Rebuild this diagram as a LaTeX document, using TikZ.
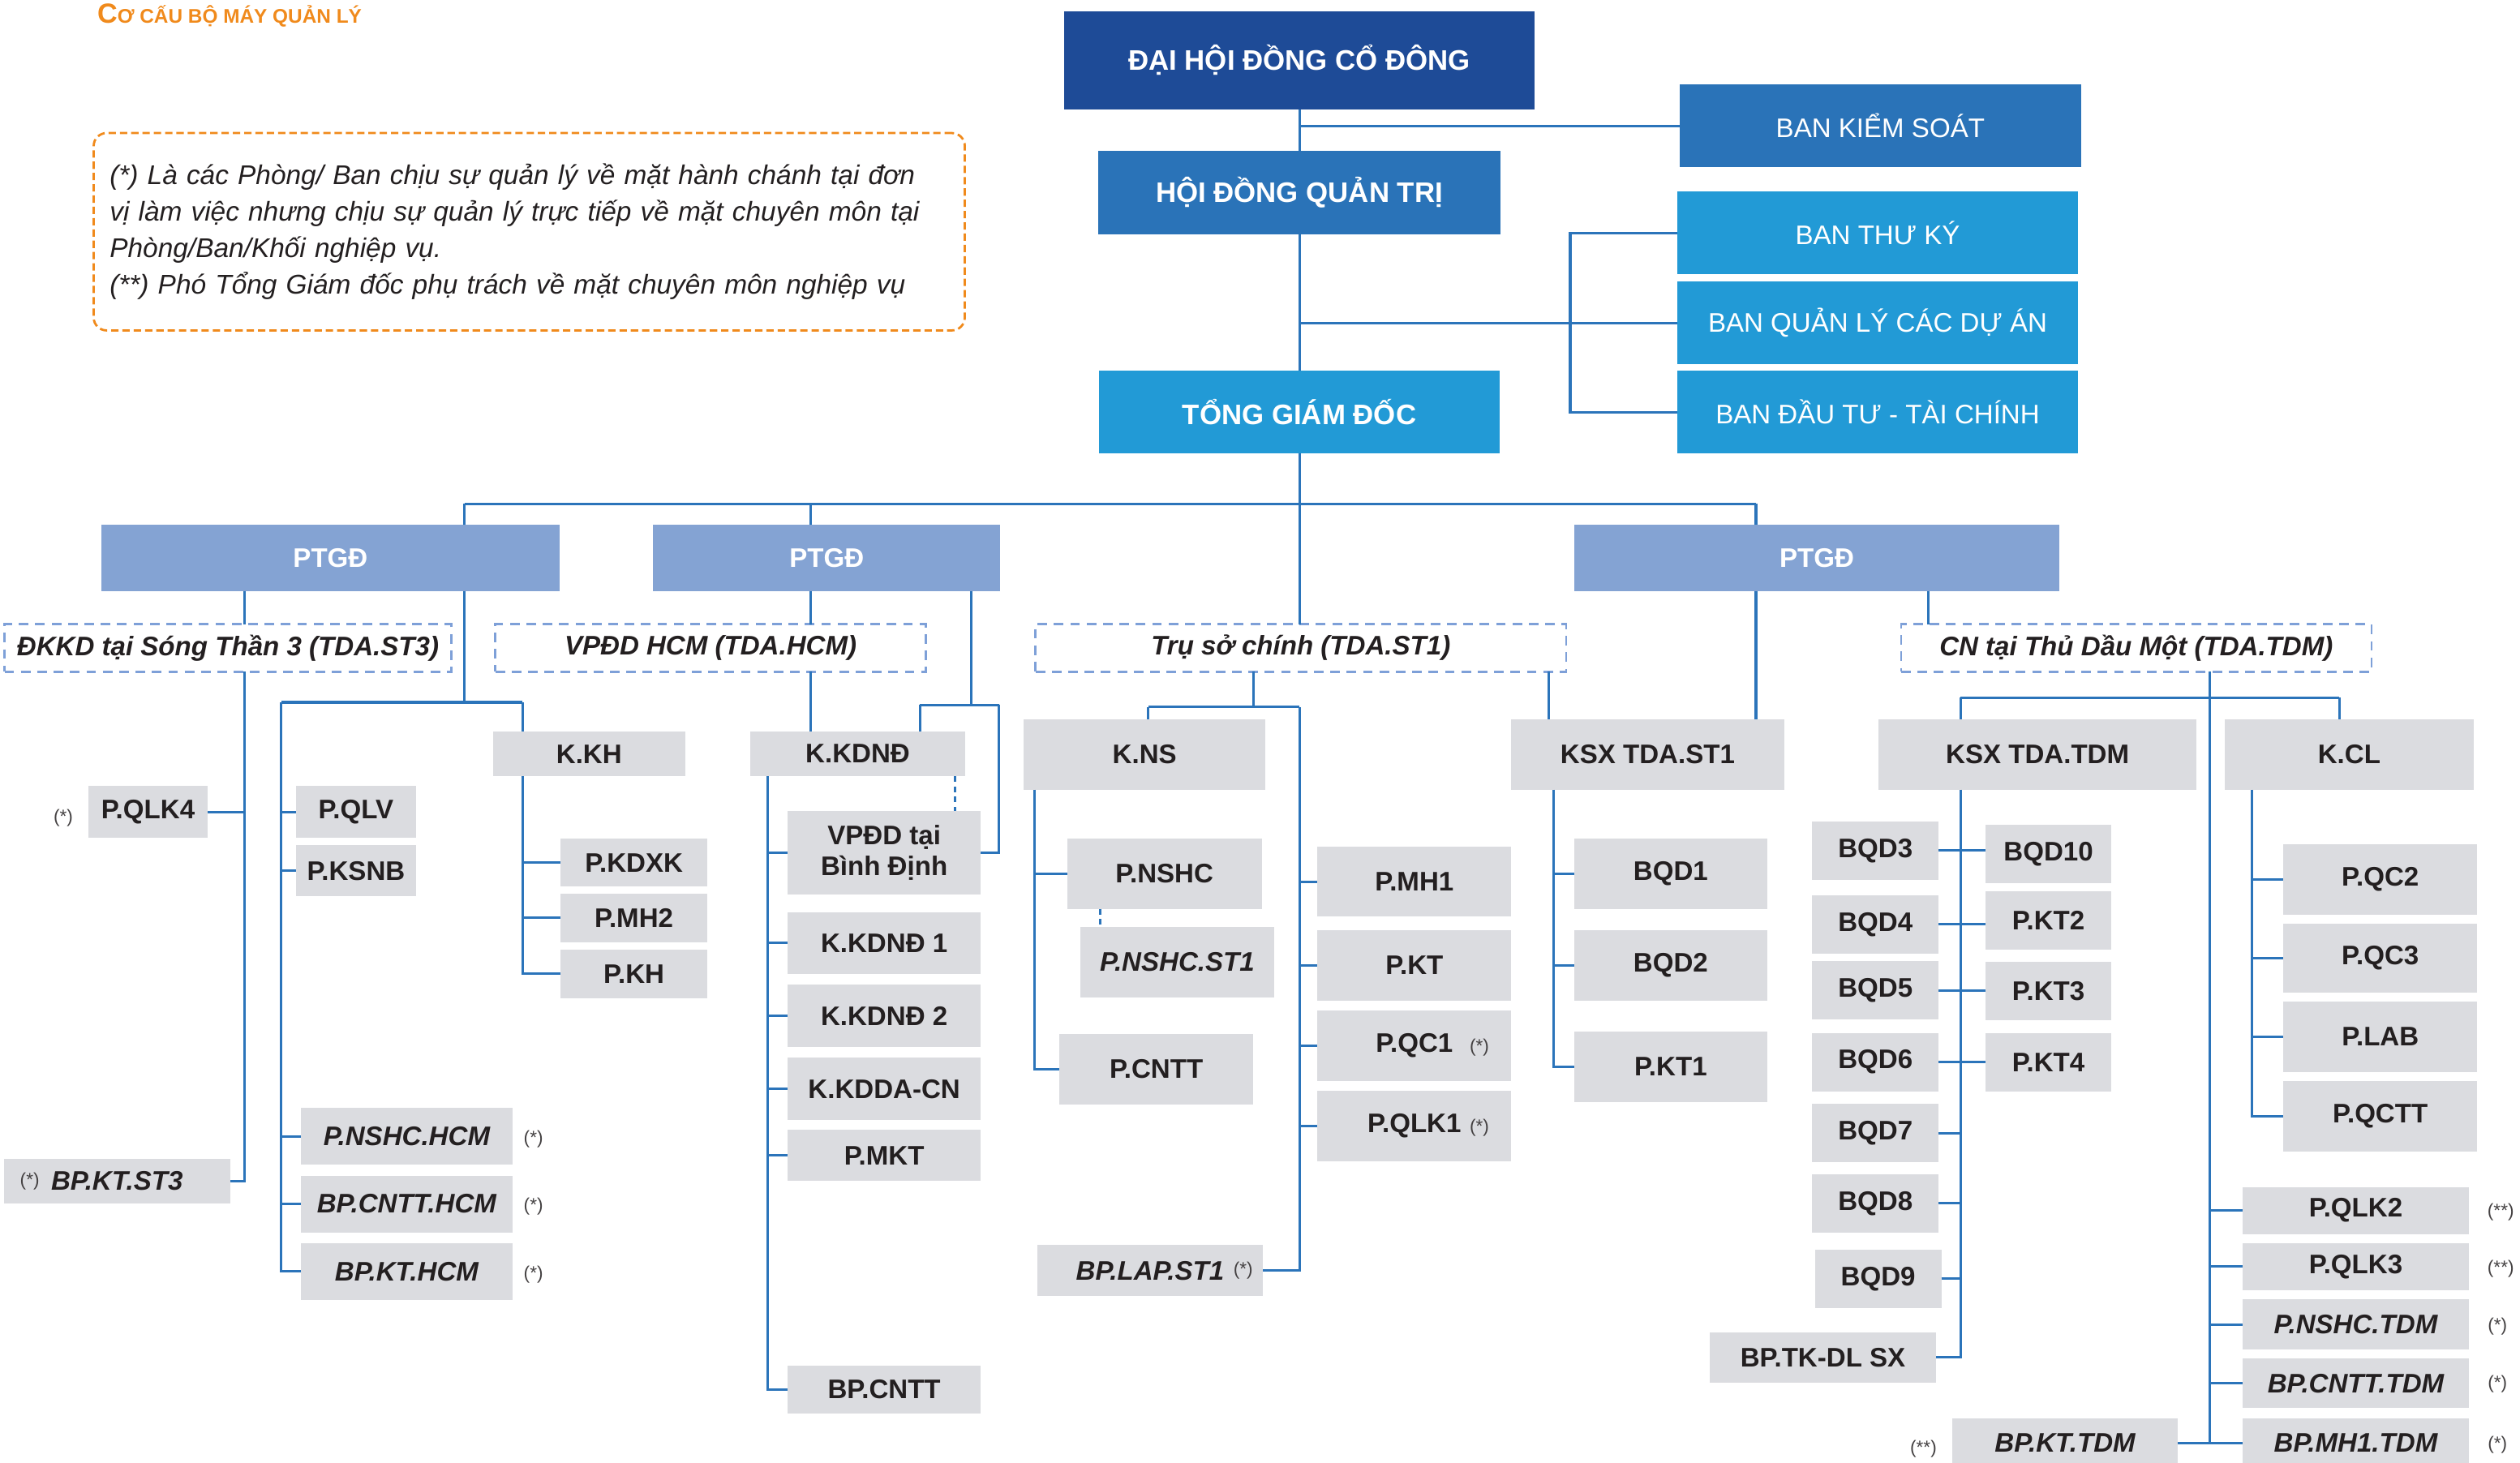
\documentclass[tikz,border=0pt]{standalone}
\usepackage{fontspec}
\setmainfont{Liberation Sans}
\usepackage{xcolor}
\usepackage{tikz}

\definecolor{dhblue}{HTML}{1E4B97}
\definecolor{hdblue}{HTML}{2A73B8}
\definecolor{tgblue}{HTML}{229AD6}
\definecolor{ptblue}{HTML}{84A3D3}
\definecolor{hdrblue}{HTML}{7EA0D8}
\definecolor{linkblue}{HTML}{2B74BA}
\definecolor{boxgray}{HTML}{DBDCE0}
\definecolor{ink}{HTML}{231F20}
\definecolor{orng}{HTML}{F08A1C}

\tikzset{
  sz/.style 2 args={minimum width=#1*0.2mm, minimum height=#2*0.2mm},
  topbox/.style={rectangle, inner sep=0pt, outer sep=0pt, text=white,
                 font=\fontsize{10}{12}\selectfont\bfseries},
  banbox/.style={rectangle, inner sep=0pt, outer sep=0pt, text=white,
                 font=\fontsize{9.5}{11}\selectfont},
  ptgdbox/.style={rectangle, fill=ptblue, inner sep=0pt, outer sep=0pt,
                  text=white, font=\fontsize{9.5}{11}\selectfont\bfseries},
  hdr/.style={rectangle, draw=hdrblue, fill=white, line width=0.7pt,
              dash pattern=on 3.4pt off 2.4pt, inner sep=0pt, outer sep=0pt,
              text=ink, font=\fontsize{9.5}{11}\selectfont\bfseries\itshape},
  gbox/.style={rectangle, fill=boxgray, inner sep=0pt, outer sep=0pt,
               align=center, text=ink, font=\fontsize{9.5}{11}\selectfont\bfseries},
  gboxi/.style={gbox, font=\fontsize{9.5}{11}\selectfont\bfseries\itshape},
  astk/.style={inner sep=0pt, text=ink!85, font=\fontsize{6.5}{7}\selectfont},
  note/.style={rectangle, draw=orng, rounded corners=1.6mm, line width=0.8pt,
               dash pattern=on 2.6pt off 1.4pt, text width=10.44cm,
               inner xsep=0.2cm, inner ysep=0pt, align=left, text=ink,
               font=\fontsize{9.6}{12.9}\selectfont\itshape},
  line/.style={draw=linkblue, line width=0.9pt},
  dline/.style={line, dash pattern=on 2pt off 1.6pt},
}

\begin{document}
\begin{tikzpicture}[x=0.2mm, y=-0.2mm]
  \useasboundingbox (0,0) rectangle (1568,910);

  % title and notes
  \node[anchor=base west, inner sep=0pt, text=orng, font=\bfseries] (title) at (60.3,14.3)
    {{\fontsize{9.8}{11}\selectfont C}{\fontsize{7}{8}\selectfont Ơ CẤU BỘ MÁY QUẢN LÝ}};
  \node[note, sz={542}{122.8}] (notes) at (329.3,144.2)
    {(*) Là các Phòng/ Ban chịu sự quản lý về mặt hành chánh tại đơn\\
     vị làm việc nhưng chịu sự quản lý trực tiếp về mặt chuyên môn tại\\
     Phòng/Ban/Khối nghiệp vụ.\\
     (**) Phó Tổng Giám đốc phụ trách về mặt chuyên môn nghiệp vụ};

  % top levels
  \node[topbox, fill=dhblue, sz={293}{61}] (dhdcd) at (808.5,37.5) {ĐẠI HỘI ĐỒNG CỔ ĐÔNG};
  \node[banbox, fill=hdblue, sz={250}{51.5}] (bks) at (1170,78.3) {BAN KIỂM SOÁT};
  \node[topbox, fill=hdblue, sz={250}{51.6}] (hdqt) at (808.5,119.8) {HỘI ĐỒNG QUẢN TRỊ};
  \node[banbox, fill=tgblue, sz={249.5}{51.8}] (btk) at (1168.3,144.9) {BAN THƯ KÝ};
  \node[banbox, fill=tgblue, sz={249.5}{51.8}] (bqlda) at (1168.3,200.9) {BAN QUẢN LÝ CÁC DỰ ÁN};
  \node[banbox, fill=tgblue, sz={249.5}{51.8}] (bdttc) at (1168.3,256.4) {BAN ĐẦU TƯ - TÀI CHÍNH};
  \node[topbox, fill=tgblue, sz={249.5}{51.7}] (tgd) at (808.5,256.4) {TỔNG GIÁM ĐỐC};

  % PTGD
  \node[ptgdbox, sz={284.8}{41.2}] (ptgd1) at (205.6,347.2) {PTGĐ};
  \node[ptgdbox, sz={216.1}{41.2}] (ptgd2) at (514.35,347.2) {PTGĐ};
  \node[ptgdbox, sz={302.1}{41.2}] (ptgd3) at (1130.45,347.2) {PTGĐ};

  % units
  \node[hdr, sz={278}{29.7}] (dkkd) at (141.8,403.25) {ĐKKD tại Sóng Thần 3 (TDA.ST3)};
  \node[hdr, sz={267.9}{29.7}] (vpdd) at (442.15,403.25) {VPĐD HCM (TDA.HCM)};
  \node[hdr, sz={330.2}{29.7}] (trusc) at (809.4,403.25) {Trụ sở chính (TDA.ST1)};
  \node[hdr, sz={292.6}{29.7}] (cntdm) at (1329.2,403.25) {CN tại Thủ Dầu Một (TDA.TDM)};

  % ST3 / HCM side
  \node[gbox, sz={74}{32.3}] (pqlk4) at (92.1,505.35) {P.QLK4};
  \node[gbox, sz={74.4}{32.3}] (pqlv) at (221.5,505.35) {P.QLV};
  \node[gbox, sz={74.4}{31.7}] (pksnb) at (221.5,541.85) {P.KSNB};
  \node[gbox, sz={119.9}{27.9}] (kkh) at (366.55,469.15) {K.KH};
  \node[gbox, sz={91.3}{29.8}] (pkdxk) at (394.45,536.9) {P.KDXK};
  \node[gbox, sz={91.3}{30.2}] (pmh2) at (394.45,571.1) {P.MH2};
  \node[gbox, sz={91.3}{30.2}] (pkh) at (394.45,606) {P.KH};
  \node[gboxi, sz={131.9}{35.1}] (pnshchcm) at (253.05,707.15) {P.NSHC.HCM};
  \node[gboxi, sz={131.9}{35.4}] (bpcntthcm) at (253.05,749.2) {BP.CNTT.HCM};
  \node[gboxi, sz={131.9}{35.1}] (bpkthcm) at (253.05,791.25) {BP.KT.HCM};
  \node[gboxi, sz={140.8}{28}] (bpktst3) at (72.8,735) {BP.KT.ST3};

  \node[gbox, sz={134}{28}] (kkdnd) at (533.7,469.1) {K.KDNĐ};
  \node[gbox, sz={120.3}{52.1}] (vpddbd) at (550.15,530.75) {VPĐD tại\\Bình Định};
  \node[gbox, sz={120.3}{38.3}] (kkdnd1) at (550.15,586.75) {K.KDNĐ 1};
  \node[gbox, sz={120.3}{38.6}] (kkdnd2) at (550.15,632.2) {K.KDNĐ 2};
  \node[gbox, sz={120.3}{38.7}] (kkddacn) at (550.15,677.65) {K.KDDA-CN};
  \node[gbox, sz={120.3}{31.9}] (pmkt) at (550.15,718.95) {P.MKT};
  \node[gbox, sz={120.3}{29.5}] (bpcntt) at (550.15,864.65) {BP.CNTT};

  % ST1 side
  \node[gbox, sz={150.6}{43.8}] (kns) at (712.2,469.4) {K.NS};
  \node[gbox, sz={121}{43.6}] (pnshc) at (724.5,543.7) {P.NSHC};
  \node[gboxi, sz={120.4}{43.7}] (pnshcst1) at (732.5,598.75) {P.NSHC.ST1};
  \node[gbox, sz={120.7}{43.7}] (pcntt) at (719.45,665.35) {P.CNTT};
  \node[gboxi, sz={140.6}{31.5}] (bplapst1) at (715.6,790.65) {BP.LAP.ST1};
  \node[gbox, sz={120.7}{43.4}] (pmh1) at (880.05,548.6) {P.MH1};
  \node[gbox, sz={120.7}{43.7}] (pkt) at (880.05,600.65) {P.KT};
  \node[gbox, sz={120.7}{43.7}] (pqc1) at (880.05,650.75) {P.QC1};
  \node[gbox, sz={120.7}{43.7}] (pqlk1) at (880.05,700.65) {P.QLK1};

  \node[gbox, sz={169.6}{43.8}] (ksxst1) at (1025.2,469.4) {KSX TDA.ST1};
  \node[gbox, sz={120.3}{43.6}] (bqd1) at (1039.55,543.7) {BQD1};
  \node[gbox, sz={120.3}{43.7}] (bqd2) at (1039.55,600.65) {BQD2};
  \node[gbox, sz={120.3}{43.7}] (pkt1) at (1039.55,663.75) {P.KT1};

  % TDM side
  \node[gbox, sz={198}{43.8}] (ksxtdm) at (1267.8,469.4) {KSX TDA.TDM};
  \node[gbox, sz={154.6}{43.8}] (kcl) at (1461.7,469.4) {K.CL};
  \node[gbox, sz={78.8}{36.2}] (bqd3) at (1166.9,529.3) {BQD3};
  \node[gbox, sz={78.8}{36.2}] (bqd4) at (1166.9,575.25) {BQD4};
  \node[gbox, sz={78.8}{36.2}] (bqd5) at (1166.9,616.35) {BQD5};
  \node[gbox, sz={78.8}{36.2}] (bqd6) at (1166.9,660.95) {BQD6};
  \node[gbox, sz={78.8}{36.2}] (bqd7) at (1166.9,705.15) {BQD7};
  \node[gbox, sz={78.8}{36.2}] (bqd8) at (1166.9,748.8) {BQD8};
  \node[gbox, sz={78.8}{36.2}] (bqd9) at (1168.6,795.8) {BQD9};
  \node[gbox, sz={140.5}{31.5}] (bptkdlsx) at (1134.25,844.65) {BP.TK-DL SX};
  \node[gbox, sz={78.5}{36.3}] (bqd10) at (1274.55,531.35) {BQD10};
  \node[gbox, sz={78.5}{36.3}] (pkt2) at (1274.55,572.85) {P.KT2};
  \node[gbox, sz={78.5}{36.3}] (pkt3) at (1274.55,616.55) {P.KT3};
  \node[gbox, sz={78.5}{36.3}] (pkt4) at (1274.55,660.95) {P.KT4};
  \node[gbox, sz={120.7}{43.9}] (pqc2) at (1481.05,547.25) {P.QC2};
  \node[gbox, sz={120.7}{43.2}] (pqc3) at (1481.05,596.2) {P.QC3};
  \node[gbox, sz={120.7}{43.5}] (plab) at (1481.05,645.25) {P.LAB};
  \node[gbox, sz={120.7}{43.7}] (pqctt) at (1481.05,694.65) {P.QCTT};
  \node[gbox, sz={140.8}{29.3}] (pqlk2) at (1465.8,753.25) {P.QLK2};
  \node[gbox, sz={140.8}{29.1}] (pqlk3) at (1465.8,788.15) {P.QLK3};
  \node[gboxi, sz={140.8}{31.3}] (pnshctdm) at (1465.8,824.35) {P.NSHC.TDM};
  \node[gboxi, sz={140.8}{31.1}] (bpcntttdm) at (1465.8,860.75) {BP.CNTT.TDM};
  \node[gboxi, sz={140.8}{31}] (bpmh1tdm) at (1465.8,898) {BP.MH1.TDM};
  \node[gboxi, sz={140.4}{31}] (bpkttdm) at (1284.9,898) {BP.KT.TDM};

  % (*) marks
  \node[astk] (s1) at (39.4,508.9) {(*)};
  \node[astk] (s2) at (18.5,735) {(*)};
  \node[astk] (s3) at (331.9,709) {(*)};
  \node[astk] (s4) at (331.9,750.6) {(*)};
  \node[astk] (s5) at (331.9,793) {(*)};
  \node[astk] (s6) at (773.5,790.5) {(*)};
  \node[astk] (s7) at (920.5,652) {(*)};
  \node[astk] (s8) at (920.5,702) {(*)};
  \node[astk] (s9) at (1556,754.5) {(**)};
  \node[astk] (s10) at (1556,789.5) {(**)};
  \node[astk] (s11) at (1554,825.5) {(*)};
  \node[astk] (s12) at (1554,861.5) {(*)};
  \node[astk] (s13) at (1554,899) {(*)};
  \node[astk] (s14) at (1196.8,901.5) {(**)};

  % rails and levels
  \coordinate (rA) at (152,0);    \coordinate (rB) at (289,0);
  \coordinate (rC) at (175,0);    \coordinate (rD) at (325.1,0);
  \coordinate (rE) at (504.5,0);  \coordinate (rF) at (604.3,0);
  \coordinate (rG) at (572.5,0);  \coordinate (rH) at (621.6,0);
  \coordinate (rI) at (477.6,0);  \coordinate (dA) at (594.2,0);
  \coordinate (rT) at (808.5,0);  \coordinate (rJ) at (780.1,0);
  \coordinate (rJl) at (714.5,0); \coordinate (rK) at (643.7,0);
  \coordinate (dB) at (684.5,0);  \coordinate (rL) at (963.6,0);
  \coordinate (rM) at (1092.6,0); \coordinate (rN) at (966.5,0);
  \coordinate (rO) at (1199.9,0); \coordinate (rP) at (1374.8,0);
  \coordinate (rQ) at (1219.9,0); \coordinate (rR) at (1455.5,0);
  \coordinate (rS) at (1401.3,0);
  \coordinate (bus) at (0,313.5); \coordinate (hB) at (0,437);
  \coordinate (hF) at (0,438.6);  \coordinate (hT) at (0,440);
  \coordinate (hP) at (0,434.2);

  % top connectors
  \draw[line] (dhdcd.south) -- (hdqt.north);
  \draw[line] (hdqt.south) -- (tgd.north);
  \draw[line] (dhdcd.south |- bks.west) -- (bks.west);
  \draw[line] (hdqt.south |- bqlda.west) -- (bqlda.west);
  \draw[line] (btk.west) -- ++(-66.5,0) |- (bdttc.west);
  \draw[line] (tgd.south) -- (rT |- trusc.north);
  \draw[line] (rB |- bus) -- (rM |- bus);

  % PTGD 1
  \draw[line] (rB |- bus) -- (rB |- ptgd1.north);
  \draw[line] (rB |- ptgd1.south) -- (rB |- hB);
  \draw[line] (rC |- hB) -- (rD |- hB);
  \draw[line] (rC |- hB) |- (bpkthcm.west);
  \draw[line] (rC |- pqlv.west) -- (pqlv.west);
  \draw[line] (rC |- pksnb.west) -- (pksnb.west);
  \draw[line] (rC |- pnshchcm.west) -- (pnshchcm.west);
  \draw[line] (rC |- bpcntthcm.west) -- (bpcntthcm.west);
  \draw[line] (rD |- hB) -- (rD |- kkh.north);
  \draw[line] (rD |- kkh.south) |- (pkh.west);
  \draw[line] (rD |- pkdxk.west) -- (pkdxk.west);
  \draw[line] (rD |- pmh2.west) -- (pmh2.west);
  \draw[line] (rA |- ptgd1.south) -- (rA |- dkkd.north);
  \draw[line] (rA |- dkkd.south) |- (bpktst3.east);
  \draw[line] (rA |- pqlk4.east) -- (pqlk4.east);

  % PTGD 2
  \draw[line] (rE |- bus) -- (rE |- ptgd2.north);
  \draw[line] (rE |- ptgd2.south) -- (rE |- vpdd.north);
  \draw[line] (rE |- vpdd.south) -- (rE |- kkdnd.north);
  \draw[line] (rF |- ptgd2.south) -- (rF |- hF);
  \draw[line] (rG |- hF) -- (rH |- hF);
  \draw[line] (rG |- hF) -- (rG |- kkdnd.north);
  \draw[line] (rH |- hF) |- (vpddbd.east);
  \draw[dline] (dA |- kkdnd.south) -- (dA |- vpddbd.north);
  \draw[line] (rI |- kkdnd.south) |- (bpcntt.west);
  \draw[line] (rI |- vpddbd.west) -- (vpddbd.west);
  \draw[line] (rI |- kkdnd1.west) -- (kkdnd1.west);
  \draw[line] (rI |- kkdnd2.west) -- (kkdnd2.west);
  \draw[line] (rI |- kkddacn.west) -- (kkddacn.west);
  \draw[line] (rI |- pmkt.west) -- (pmkt.west);

  % head office
  \draw[line] (rJ |- trusc.south) -- (rJ |- hT);
  \draw[line] (rJl |- hT) -- (rT |- hT);
  \draw[line] (rJl |- hT) -- (rJl |- kns.north);
  \draw[line] (rT |- hT) |- (bplapst1.east);
  \draw[line] (rT |- pmh1.west) -- (pmh1.west);
  \draw[line] (rT |- pkt.west) -- (pkt.west);
  \draw[line] (rT |- pqc1.west) -- (pqc1.west);
  \draw[line] (rT |- pqlk1.west) -- (pqlk1.west);
  \draw[line] (rK |- kns.south) |- (pcntt.west);
  \draw[line] (rK |- pnshc.west) -- (pnshc.west);
  \draw[dline] (dB |- pnshc.south) -- (dB |- pnshcst1.north);
  \draw[line] (rL |- trusc.south) -- (rL |- ksxst1.north);

  % PTGD 3
  \draw[line] (rM |- bus) -- (rM |- ptgd3.north);
  \draw[line] (rM |- ptgd3.south) -- (rM |- ksxst1.north);
  \draw[line] (rN |- ksxst1.south) |- (pkt1.west);
  \draw[line] (rN |- bqd1.west) -- (bqd1.west);
  \draw[line] (rN |- bqd2.west) -- (bqd2.west);
  \draw[line] (rO |- ptgd3.south) -- (rO |- cntdm.north);
  \draw[line] (rP |- cntdm.south) |- (bpmh1tdm.west);
  \draw[line] (rP |- bpmh1tdm.west) -- (bpkttdm.east);
  \draw[line] (rP |- pqlk2.west) -- (pqlk2.west);
  \draw[line] (rP |- pqlk3.west) -- (pqlk3.west);
  \draw[line] (rP |- pnshctdm.west) -- (pnshctdm.west);
  \draw[line] (rP |- bpcntttdm.west) -- (bpcntttdm.west);
  \draw[line] (rQ |- hP) -- (rR |- hP);
  \draw[line] (rQ |- hP) -- (rQ |- ksxtdm.north);
  \draw[line] (rR |- hP) -- (rR |- kcl.north);
  \draw[line] (rQ |- ksxtdm.south) |- (bptkdlsx.east);
  \draw[line] (bqd3.east) -- (bqd3.east -| bqd10.west);
  \draw[line] (bqd4.east) -- (bqd4.east -| pkt2.west);
  \draw[line] (bqd5.east) -- (bqd5.east -| pkt3.west);
  \draw[line] (bqd6.east) -- (bqd6.east -| pkt4.west);
  \draw[line] (bqd7.east) -- (rQ |- bqd7.east);
  \draw[line] (bqd8.east) -- (rQ |- bqd8.east);
  \draw[line] (bqd9.east) -- (rQ |- bqd9.east);
  \draw[line] (rS |- kcl.south) |- (pqctt.west);
  \draw[line] (rS |- pqc2.west) -- (pqc2.west);
  \draw[line] (rS |- pqc3.west) -- (pqc3.west);
  \draw[line] (rS |- plab.west) -- (plab.west);
\end{tikzpicture}
\end{document}
